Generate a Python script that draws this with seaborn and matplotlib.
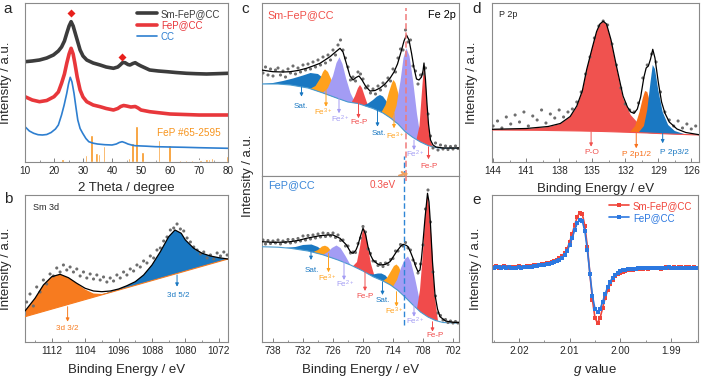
import numpy as np
import matplotlib
matplotlib.use('Agg')
import matplotlib.pyplot as plt
from matplotlib.ticker import MultipleLocator, FormatStrFormatter
import seaborn as sns

# ---------------- a: XRD ----------------
xrd_sm_x = [10, 12.5, 15, 17.5, 19.8, 21.5, 22.6, 23.6, 24.4, 25.2, 25.9, 26.6, 27.2, 28, 29, 30, 31.3, 33.5, 35.9, 38,
            40.5, 42, 42.8, 43.7, 44.5, 45.5, 46.2, 47.2, 48, 49, 50, 53, 56, 59, 62, 65.7, 69, 72.6, 76, 80]
xrd_sm_y = [100.3, 101, 102, 104, 107, 111, 115, 121, 128.7, 136, 140.3, 136, 130, 122, 112, 106, 102, 99, 97, 95,
            93.7, 95, 97, 99.5, 99.3, 97.5, 97, 98.5, 99.3, 97.5, 96, 92, 91, 90.3, 89.5, 88.7, 88.3, 88, 88.3, 88.7]
xrd_fep_x = [10, 12.5, 15, 17.5, 20, 21.5, 22.6, 23.6, 24.4, 25.2, 25.9, 26.6, 27.2, 28, 29, 30, 31.3, 33.5, 35.9, 38,
             40.5, 42, 43, 44, 45, 46.5, 48, 49, 50, 53, 56, 60, 65, 70, 75, 80]
xrd_fep_y = [65.3, 62, 60.3, 61.5, 65.3, 70, 78.7, 88, 98.7, 108, 113.7, 108, 98.7, 85, 72, 65, 60.3, 57, 55.3, 53.5,
             52, 53.5, 55.5, 56.5, 56, 55, 55.5, 54, 52, 50.3, 49.3, 48, 47.5, 47, 47, 47]
xrd_cc_x = [10, 11.5, 13, 14.5, 16, 17.5, 19, 20.5, 21.5, 22.6, 23.5, 24.4, 25, 25.6, 26.2, 26.9, 27.6, 28.2, 29, 29.9,
            31, 32, 33.5, 35, 37.5, 40, 41.5, 42.5, 43.5, 44.5, 45.5, 47, 48, 52, 55, 60, 65, 70, 75, 80]
xrd_cc_y = [35.3, 31, 28.7, 27.3, 27, 27.5, 29.5, 33, 37, 47, 57, 68.7, 78, 84.7, 80, 68.7, 54, 42, 33.5, 28.7,
            23.5, 20.3, 18.8, 18, 17.3, 17, 18, 19.5, 20.3, 19.3, 18, 16.8, 16.3, 15.8, 15.3, 15, 14.7, 14.3, 14, 13.7]
pdf_x = [23.0, 31.0, 33.0, 34.7, 35.5, 37.3, 46.0, 46.5, 47.0, 48.4, 50.5, 55.8, 56.2, 59.3, 59.8, 63.5, 65.5, 67.5,
         70.5, 72.6, 73.5, 74.5, 79.6]
pdf_h = [3, 7, 27, 9, 8, 16, 4, 20, 19, 36, 10, 6, 22, 2, 17, 2, 2, 2, 2, 3, 3, 4, 6]
diamond_x = [25.7, 43.6]
diamond_y = [148.7, 104.7]

# ---------------- b: Sm 3d ----------------
b_dot_y = [40, 48, 36, 55, 50, 62, 58, 68, 66, 74, 70, 77, 72, 75, 70, 73, 66, 70, 64, 68,
           63, 67, 62, 65, 60, 64, 61, 67, 64, 70, 67, 73, 71, 77, 75, 81, 79, 86, 84, 92,
           94, 101, 105, 112, 114, 118, 113, 111, 104, 100, 95, 92, 88, 90, 84, 87, 83, 89, 86, 90, 87]
b_bg_x = [1118.4, 1069.8]
b_bg_y = [25.3, 83]
b_33_x = [1118.4, 1116, 1114, 1112, 1110, 1108, 1106, 1104, 1102, 1100, 1097]
b_33_y = [31, 43.7, 57, 65.3, 67.7, 64.3, 58.5, 52.5, 48.5, 48, 50.7]
b_52_x = [1100, 1098, 1096, 1094, 1092, 1090, 1088, 1086, 1084, 1082.5, 1081, 1080, 1078, 1076, 1074, 1072, 1069.8]
b_52_y = [47.1, 50.5, 53, 56.3, 60.3, 67, 77, 90.3, 105.3, 112, 108.7, 102, 93.7, 88.7, 86, 84.3, 83]
b_fit_x = [1118.4, 1116, 1114, 1112, 1110, 1108, 1106, 1104, 1102, 1100, 1098, 1096, 1094, 1092, 1090, 1088, 1086,
           1084, 1082.5, 1081, 1080, 1078, 1076, 1074, 1072, 1069.8]
b_fit_y = [31, 43.7, 57, 65.3, 67.7, 64.3, 58.7, 53.7, 51, 50.3, 51, 53, 56.3, 60.3, 67, 77, 90.3,
           105.3, 112, 108.7, 102, 93.7, 88.7, 86, 84.3, 83]

# ---------------- c: Fe 2p, Sm-FeP@CC (top) ----------------
ct_dot_y = [103, 109, 101, 107, 100, 106, 108, 101, 105, 99, 107, 103, 110, 102, 108, 104, 111, 106, 112, 107,
            114, 109, 116, 111, 119, 113, 121, 116, 126, 121, 131, 136, 126, 118, 109, 96, 99, 95, 104, 102,
            97, 88, 90, 83, 87, 82, 90, 86, 93, 90, 98, 95, 107, 104, 118, 127, 126, 146, 134, 136,
            110, 105, 92, 101, 102, 108, 62, 40, 28, 33, 26, 31, 27, 30, 26.5, 29.5, 27, 30, 27.5]
ct_bg_x = [740.5, 737, 734.5, 731, 728, 725, 723, 721, 718, 716, 714.5, 713, 711.5, 710, 708.5, 707, 705.5, 704, 700.5]
ct_bg_y = [92, 92, 91, 88, 83, 77.5, 74, 72.5, 67.5, 63, 58, 52, 44, 38.5, 34, 30.5, 28.5, 27.7, 27.7]
ct_sat1_x = [740.5, 738, 736, 734, 732, 730.5, 729, 727.5, 726, 724.5, 723]
ct_sat1_y = [92, 93, 95, 97.5, 100.5, 103, 102, 96, 88, 80, 74]
ct_fe3a_x = [730.5, 729.5, 728.5, 728, 727.6, 727, 726.3, 725.5, 724.5]
ct_fe3a_y = [87.3, 90, 98, 104, 106.7, 104, 96, 86, 76.3]
ct_fe2a_x = [728, 727, 726, 725.3, 724.7, 724.1, 723.4, 722.5, 721.5]
ct_fe2a_y = [83.2, 88, 100, 113, 118.7, 112, 98, 83, 72.8]
ct_fepa_x = [722.3, 721.6, 721, 720.6, 720.2, 719.6, 718.9]
ct_fepa_y = [73.3, 80, 88, 91, 88, 79, 68.9]
ct_sat2_x = [720, 719, 718, 717.2, 716.6, 716, 715.2, 714.2, 713.3]
ct_sat2_y = [70.5, 72.5, 76, 79.5, 81, 79.5, 74, 64, 53.2]
ct_fe3b_x = [716.3, 715.5, 714.8, 714.2, 713.9, 713.5, 712.8, 712, 711]
ct_fe3b_y = [63.7, 71, 84, 93, 96, 93, 80, 62, 42]
ct_fe2b_x = [714.2, 713.3, 712.5, 711.9, 711.3, 710.7, 710, 709.2, 708.3]
ct_fe2b_y = [56.3, 70, 95, 118, 127.7, 120, 96, 62, 33.4]
ct_fepb_x = [709.3, 708.7, 708.2, 707.8, 707.4, 707, 706.5, 706]
ct_fepb_y = [36.4, 50, 85, 111, 90, 55, 35, 28.8]
ct_fit_x = [740.3, 739, 738, 736, 734.6, 733, 731.3, 730, 728.6, 727.6, 726.6, 725.5, 724.6, 724, 723.3, 722.6, 722,
            721.4, 720.8, 720.2, 719.5, 718.6, 717.6, 716.6, 715.6, 714.6, 713.8, 713.1, 712.4, 711.8, 711.3, 710.8,
            710.3, 709.8, 709.3, 708.8, 708.3, 708.0, 707.8, 707.5, 707.2, 706.9, 706.5, 706, 705.4, 704, 700.8]
ct_fit_y = [106, 105, 104.3, 104, 104.3, 105.5, 107.7, 110, 112.7, 116, 119.3, 124, 127.7, 124, 112, 100, 96,
            98.5, 100, 96, 90, 85, 85.5, 88, 92, 97.7, 104, 112, 124, 135, 141, 136,
            123, 108, 97, 96, 99, 105, 113, 96, 72, 52, 36, 31, 29, 28, 28]

# ---------------- c: Fe 2p, FeP@CC (bottom) ----------------
cb_dot_y = [102, 98, 101.5, 98.5, 101, 99, 102, 98, 101, 99.5, 102.5, 99, 102.5, 100, 103.5, 101, 106, 102, 106.5, 103,
            107, 104, 108, 105, 109, 105.5, 108.5, 106, 109, 104.5, 107, 101.5, 102, 96, 96, 89, 90, 89.5, 98.5, 104,
            115.5, 110, 93, 88.5, 81, 80.5, 76.5, 78.5, 75.5, 79, 77.5, 82.5, 83.5, 91, 91, 97.5, 96, 99.5, 94, 92,
            82, 78.5, 69, 78, 97, 133, 152, 120, 70, 46, 29, 26.5, 22, 22.5, 19.5, 21, 19, 20.5, 19]
cb_bg_x = [740.5, 737, 734.5, 731, 728, 725, 722.5, 720, 718, 716, 714.5, 713, 711.5, 710, 708.5, 707, 705.5, 704, 700.5]
cb_bg_y = [95.3, 94.8, 93.7, 91, 87.2, 82, 77, 71, 65.3, 61, 57, 51.5, 44.5, 37, 30, 25, 21.5, 19.5, 18.7]
cb_sat1_x = [735.5, 733.5, 732, 730.3, 729, 727.5, 726]
cb_sat1_y = [94.2, 95, 97, 97.5, 95, 89, 83.7]
cb_fe3a_x = [730, 729, 728.2, 727.6, 727, 726.2, 725.2]
cb_fe3a_y = [89.8, 92, 95.5, 96.3, 95, 90, 82.3]
cb_fe2a_x = [728, 727, 726.2, 725.3, 724.5, 723.5, 722.5]
cb_fe2a_y = [87.2, 90, 94, 96.5, 94, 86, 77]
cb_fepa_x = [722, 721.2, 720.6, 720.2, 719.8, 719.4, 719, 718.4, 717.6]
cb_fepa_y = [75.8, 80, 95, 108, 113.5, 108, 95, 78, 64.4]
cb_sat2_x = [719, 718, 717, 716.3, 715.5, 714.5, 713.5]
cb_sat2_y = [68.2, 67.5, 68.5, 68.5, 66.5, 60.5, 53.4]
cb_fe3b_x = [716, 715.2, 714.5, 713.8, 713.3, 712.8, 712.1, 711.3, 710.5]
cb_fe3b_y = [61, 64, 70, 76, 77.5, 75, 66, 53, 39.5]
cb_fe2b_x = [714, 713.2, 712.4, 711.6, 711, 710.4, 709.6, 708.8, 708]
cb_fe2b_y = [55.4, 62, 74, 83, 85.5, 80, 64, 45, 28.3]
cb_fepb_x = [709.2, 708.6, 708, 707.5, 707.1, 706.7, 706.2, 705.7, 705.0]
cb_fepb_y = [33, 52, 90, 132, 148.5, 132, 95, 48, 21]
cb_fit_x = [740.3, 738, 736, 734.6, 733, 731.3, 730, 728.6, 727, 726, 724.6, 723.3, 722.5, 722, 721.4, 721, 720.5,
            720, 719.5, 719, 718.5, 718, 717.2, 716.6, 715.6, 714.6, 713.3, 712.5, 712, 711.3, 711, 710.5, 710,
            709.5, 709, 708.6, 708.3, 708, 707.6, 707.1, 706.8, 706.5, 706.1, 705.6, 705.1, 704.6, 703.5, 702, 700.8]
cb_fit_y = [100.3, 99.7, 99.8, 100.3, 101.5, 103.7, 105, 106.3, 107, 107, 103.7, 97, 90, 88.7, 92, 97, 106,
            113.7, 108, 95.3, 87, 82, 78.5, 77, 77.5, 80.3, 90.3, 95.5, 97.7, 96.5, 95.3, 90, 83.7,
            76, 70.3, 72, 83.7, 100, 123.7, 148.7, 140, 117, 80, 47, 33, 25.3, 21, 19.7, 19.5]

# ---------------- d: P 2p ----------------
d_dot_y = [36, 41, 34, 45, 38, 47, 40, 50, 36, 46, 42, 52, 39, 48, 44, 52, 45, 50, 53, 60,
           70, 88, 105, 124, 136, 141, 137, 118, 97, 74, 58, 52, 50, 59, 84, 97, 108, 100, 70, 50,
           42, 36, 41, 34, 38, 33, 36]
d_bg_x = [144.1, 140, 136, 134, 132, 130, 128, 125.3]
d_bg_y = [32, 31.7, 31, 30.5, 29.8, 29, 28, 27]
d_po_x = [144.1, 141, 139, 137.9, 137, 136.4, 135.9, 135.5, 135, 134.6, 134.3, 134.0, 133.7, 133.3, 132.8, 132.2,
          131.5, 130.6, 129.5, 128, 125.3]
d_po_y = [32.5, 33, 35, 38, 45, 55, 70, 92, 114, 130, 137.5, 140.3, 137.5, 122, 95, 64, 47, 36, 31.5, 28.8, 27.2]
d_p12_x = [131.6, 131.1, 130.7, 130.4, 130.2, 130.0, 129.7, 129.3, 128.8]
d_p12_y = [29.6, 36, 50, 64, 71, 70, 58, 40, 28.4]
d_p32_x = [130.8, 130.3, 130.0, 129.7, 129.5, 129.3, 129.0, 128.6, 128.1, 127.5, 126.5]
d_p32_y = [29.3, 36, 52, 80, 97, 93, 72, 50, 37, 31, 27.4]
d_fit_x = [144.1, 141, 139, 137.9, 137, 136.4, 135.9, 135.5, 135, 134.6, 134.3, 134, 133.7, 133.3, 132.8, 132.2,
           131.8, 131.5, 131.2, 130.9, 130.6, 130.3, 130.1, 129.9, 129.7, 129.5, 129.3, 129.0, 128.7, 128.4,
           128.0, 127.3, 126.5, 125.3]
d_fit_y = [32.7, 33.5, 35.5, 38.5, 45.5, 56, 71, 92.5, 114, 130.5, 138, 140.8, 138, 122.5, 96, 66,
           55, 50, 48.7, 53, 65, 85, 94, 96, 103, 112.7, 104, 80, 60, 49, 40, 33, 29.5, 27.3]

# ---------------- e: EPR ----------------
epr_sm = [75.5, 76, 74.5, 75, 76, 75, 74.5, 75.5, 75, 75.5, 76, 75, 75.5, 76, 76.5, 76, 77, 77, 77.5, 78,
          78.5, 79, 79.5, 80, 81, 82.5, 84, 86, 89, 93, 100, 108, 117, 125, 129.5, 128, 116, 95, 68, 42,
          24, 19, 24, 34, 44, 52, 58, 62.5, 66, 68, 69.5, 70.5, 71.5, 72, 72.5, 72.5, 73, 73.5, 73, 73.5,
          74, 73.5, 74, 74.5, 74, 74.5, 73.5, 74, 75, 74.5, 74, 75, 74.5, 75, 75.5, 74.5, 75, 75.5, 74.5, 75, 74.5]
epr_fep = [74.5, 75, 75, 74, 75, 74.5, 75, 74.5, 74, 74.5, 75, 74.5, 75, 75, 75.5, 75.5, 76, 76.5, 77, 77,
           77.5, 78, 78.5, 79, 80, 81, 82.5, 84.5, 87, 91, 97, 104, 112, 119, 122, 121, 111, 92, 68, 46,
           33, 30, 33, 40, 48, 55, 60.5, 64.5, 67.5, 69.5, 71, 72, 72.5, 73, 73.5, 73.5, 73.5, 74, 74, 74,
           74.5, 74, 74.5, 74, 74.5, 74, 74.5, 74, 74.5, 75, 74.5, 74, 74.5, 74, 74.5, 74, 74.5, 74, 74.5, 74, 74.5]

b_dot_x = np.linspace(1118.0, 1070.0, len(b_dot_y))
c_dot_x = np.linspace(740.0, 701.0, len(ct_dot_y))
d_dot_x = np.linspace(144.0, 125.6, len(d_dot_y))
g_val = np.linspace(2.025, 1.985, len(epr_sm))

BLUE, ORANGE, LAV, RED = '#1a78c2', '#ffa11c', '#a39cf4', '#f14b4b'
DOT = '#6e6e6e'

sns.set_theme(style='ticks')
plt.rcParams.update({'font.family': ['Liberation Sans', 'DejaVu Sans'],
                     'mathtext.fontset': 'custom', 'mathtext.rm': 'Liberation Sans',
                     'mathtext.it': 'Liberation Sans:italic', 'mathtext.default': 'regular'})

fig = plt.figure(figsize=(7.02, 3.78), dpi=100)


def axes_px(l, t, r, b):
    return fig.add_axes([l / 702, 1 - b / 378, (r - l) / 702, (b - t) / 378])


def style(ax, xlim, ylim, major, minor, labels=True):
    ax.set_xlim(*xlim)
    ax.set_ylim(*ylim)
    ax.set_yticks([])
    ax.xaxis.set_major_locator(MultipleLocator(major))
    ax.xaxis.set_minor_locator(MultipleLocator(minor))
    ax.tick_params(axis='x', which='both', direction='in', top=False, color='#808080',
                   labelsize=7.2, pad=3, labelbottom=labels)
    ax.tick_params(axis='x', which='major', length=3, width=0.7)
    ax.tick_params(axis='x', which='minor', length=1.8, width=0.6)
    for s in ax.spines.values():
        s.set_color('#8a8a8a')
        s.set_linewidth(0.8)


def peak(ax, px, py, bx, by, color, z=2):
    px, py = np.asarray(px, float), np.asarray(py, float)
    bx, by = np.asarray(bx, float), np.asarray(by, float)
    m = (bx >= px.min()) & (bx <= px.max())
    o = np.argsort(bx[m])
    ax.fill(np.r_[px, bx[m][o]], np.r_[py, by[m][o]], color=color, lw=0, zorder=z)


def arrow(ax, x, y0, y1, color, text, tx, ty, fs=5.8):
    ax.annotate('', xy=(x, y1), xytext=(x, y0),
                arrowprops=dict(arrowstyle='-|>', color=color, lw=0.7, mutation_scale=5,
                                shrinkA=0, shrinkB=0), zorder=6)
    ax.text(tx, ty, text, color=color, ha='center', va='center', fontsize=fs, zorder=6)


def ylab(ax, xfrac):
    ax.set_ylabel('Intensity / a.u.', fontsize=9.5)
    ax.yaxis.set_label_coords(xfrac, 0.5)


def xlab(ax, text, yfrac):
    ax.set_xlabel(text, fontsize=9.5)
    ax.xaxis.set_label_coords(0.5, yfrac)


# ---- a ----
ax = axes_px(25, 3, 228, 162)
ax.bar(pdf_x, pdf_h, width=0.85, color='#f7941d', zorder=1)
sns.lineplot(x=xrd_sm_x, y=xrd_sm_y, ax=ax, color='#3c3c3c', lw=2.6, estimator=None, sort=False, label='Sm-FeP@CC')
sns.lineplot(x=xrd_fep_x, y=xrd_fep_y, ax=ax, color='#e8373b', lw=2.6, estimator=None, sort=False, label='FeP@CC')
sns.lineplot(x=xrd_cc_x, y=xrd_cc_y, ax=ax, color='#2e7fd0', lw=1.2, estimator=None, sort=False, label='CC')
ax.plot(diamond_x, diamond_y, 'D', color='#e8201c', ms=4, mec='none')
ax.text(55.4, 29, 'FeP #65-2595', color='#f7941d', fontsize=7.2, va='center')
ax.legend(loc='upper right', bbox_to_anchor=(0.99, 1.0), frameon=False, fontsize=7, labelcolor='linecolor',
          handlelength=2.0, handletextpad=0.4, labelspacing=0.15, borderaxespad=0.2)
style(ax, (10, 80), (0, 159), 10, 5)
ylab(ax, -0.064)
xlab(ax, '2 Theta / degree', -0.125)

# ---- b ----
ax = axes_px(25, 195, 228, 342)
peak(ax, b_33_x, b_33_y, b_bg_x, b_bg_y, '#f77b1f')
peak(ax, b_52_x, b_52_y, b_bg_x, b_bg_y, BLUE)
ax.plot(b_bg_x, b_bg_y, color='#f77b1f', lw=0.8, zorder=3)
sns.scatterplot(x=b_dot_x, y=b_dot_y, ax=ax, s=5, color=DOT, edgecolor='none', zorder=4)
sns.lineplot(x=b_fit_x, y=b_fit_y, ax=ax, color='black', lw=0.9, estimator=None, sort=False, zorder=5)
arrow(ax, 1108.2, 35.3, 20.3, '#f77b1f', '3d 3/2', 1108.4, 13)
arrow(ax, 1082.0, 67, 55.3, BLUE, '3d 5/2', 1081.8, 46.3)
ax.text(0.04, 0.9, 'Sm 3d', transform=ax.transAxes, fontsize=6.5)
style(ax, (1118.4, 1069.8), (0, 147), 8, 4)
ylab(ax, -0.064)
xlab(ax, 'Binding Energy / eV', -0.15)

# ---- c ----
comp_top = [(ct_sat1_x, ct_sat1_y, BLUE), (ct_fe3a_x, ct_fe3a_y, ORANGE), (ct_fe2a_x, ct_fe2a_y, LAV),
            (ct_fepa_x, ct_fepa_y, RED), (ct_sat2_x, ct_sat2_y, BLUE), (ct_fe3b_x, ct_fe3b_y, ORANGE),
            (ct_fe2b_x, ct_fe2b_y, LAV), (ct_fepb_x, ct_fepb_y, RED)]
comp_bot = [(cb_sat1_x, cb_sat1_y, BLUE), (cb_fe3a_x, cb_fe3a_y, ORANGE), (cb_fe2a_x, cb_fe2a_y, LAV),
            (cb_fepa_x, cb_fepa_y, RED), (cb_sat2_x, cb_sat2_y, BLUE), (cb_fe3b_x, cb_fe3b_y, ORANGE),
            (cb_fe2b_x, cb_fe2b_y, LAV), (cb_fepb_x, cb_fepb_y, RED)]
labels = ['Sat.', 'Fe$^{3+}$', 'Fe$^{2+}$', 'Fe-P'] * 2
colors = [BLUE, ORANGE, LAV, RED] * 2

axt = axes_px(262, 3, 459, 176)
for px, py, col in comp_top:
    peak(axt, px, py, ct_bg_x, ct_bg_y, col)
axt.plot(ct_bg_x, ct_bg_y, color='#4a9bd0', lw=0.8, zorder=3)
sns.scatterplot(x=c_dot_x, y=ct_dot_y, ax=axt, s=5, color=DOT, edgecolor='none', zorder=4)
sns.lineplot(x=ct_fit_x, y=ct_fit_y, ax=axt, color='black', lw=0.9, estimator=None, sort=False, zorder=5)
top_arrows = [(732.3, 89.3, 79.3, 732.5, 69.3), (727.4, 86.7, 69.3, 727.9, 63.3), (724.8, 77.7, 62.7, 724.6, 56.5),
              (720.9, 72.7, 57.7, 720.7, 53.7), (717.1, 69.3, 49.3, 716.9, 42.7), (713.8, 62.7, 47.7, 713.6, 40),
              (709.8, 36, 26, 709.6, 21.7), (706.9, 29.3, 16.7, 706.7, 9.3)]
for (x, y0, y1, tx, ty), lab, col in zip(top_arrows, labels, colors):
    arrow(axt, x, y0, y1, col, lab, tx, ty)
axt.axvline(711.4, ymin=0, ymax=0.97, color='#f07a7a', ls=(0, (4, 2)), lw=1.1, zorder=6)
axt.plot([711.7, 711.7], [0, 20], color='#2f86d6', ls=(0, (4, 2)), lw=1.0, zorder=6)
axt.annotate('', xy=(710.6, 6), xytext=(712.6, 6),
             arrowprops=dict(arrowstyle='->', connectionstyle='arc3,rad=0.7', color='#f0a060', lw=1.6), zorder=7)
axt.text(0.03, 0.93, 'Sm-FeP@CC', transform=axt.transAxes, color='#f0504a', fontsize=7.8, va='center')
axt.text(0.985, 0.93, 'Fe 2p', transform=axt.transAxes, color='black', fontsize=7.8, va='center', ha='right')
style(axt, (740.2, 700.8), (0, 173), 6, 3, labels=False)
axt.tick_params(axis='x', which='both', length=0)

axb = axes_px(262, 176, 459, 342)
for px, py, col in comp_bot:
    peak(axb, px, py, cb_bg_x, cb_bg_y, col)
axb.plot(cb_bg_x, cb_bg_y, color='#4a9bd0', lw=0.8, zorder=3)
sns.scatterplot(x=c_dot_x, y=cb_dot_y, ax=axb, s=5, color=DOT, edgecolor='none', zorder=4)
sns.lineplot(x=cb_fit_x, y=cb_fit_y, ax=axb, color='black', lw=0.9, estimator=None, sort=False, zorder=5)
bot_arrows = [(730.4, 92, 82, 730.3, 72), (726.9, 88.7, 69.7, 727.1, 63.7), (723.8, 80.3, 62, 723.6, 57.7),
              (719.6, 72, 51, 719.6, 45.3), (716.1, 60.3, 47, 716.1, 42), (713.3, 50.3, 35.3, 713.8, 31),
              (709.8, 37, 25.3, 709.6, 21), (706.1, 20.3, 10.3, 705.6, 6.3)]
for (x, y0, y1, tx, ty), lab, col in zip(bot_arrows, labels, colors):
    arrow(axb, x, y0, y1, col, lab, tx, ty)
axb.axvline(711.7, ymin=0.1, ymax=1, color='#2f86d6', ls=(0, (4, 2)), lw=1.0, zorder=6)
axb.axvline(711.4, ymin=0.97, ymax=1, color='#f07a7a', ls=(0, (4, 2)), lw=1.1, zorder=6)
axb.text(716.1, 157, '0.3eV', color='#f0504a', fontsize=7.2, ha='center', va='center')
axb.text(0.03, 0.946, 'FeP@CC', transform=axb.transAxes, color='#3a86d8', fontsize=7.8, va='center')
style(axb, (740.2, 700.8), (0, 166), 6, 3)
xlab(axb, 'Binding Energy / eV', -0.135)
fig.text(248 / 702, 1 - 176 / 378, 'Intensity / a.u.', rotation=90, va='center', ha='center', fontsize=9.5)

# ---- d ----
ax = axes_px(492, 3, 699, 162)
peak(ax, d_po_x, d_po_y, d_bg_x, d_bg_y, '#f0524f')
peak(ax, d_p12_x, d_p12_y, d_bg_x, d_bg_y, '#f8701a')
peak(ax, d_p32_x, d_p32_y, d_bg_x, d_bg_y, BLUE)
ax.plot(d_bg_x, d_bg_y, color='#f0524f', lw=0.8, zorder=3)
sns.scatterplot(x=d_dot_x, y=d_dot_y, ax=ax, s=5, color=DOT, edgecolor='none', zorder=4)
sns.lineplot(x=d_fit_x, y=d_fit_y, ax=ax, color='black', lw=0.9, estimator=None, sort=False, zorder=5)
arrow(ax, 135.1, 30.3, 15.3, '#f0524f', 'P-O', 135.0, 9.3, fs=6)
arrow(ax, 131.0, 28.7, 13.7, '#f8701a', 'P 2p1/2', 131.0, 8, fs=6)
arrow(ax, 128.6, 30.3, 18.7, BLUE, 'P 2p3/2', 127.5, 9.3, fs=6)
ax.text(0.035, 0.93, 'P 2p', transform=ax.transAxes, fontsize=6.5, va='center')
style(ax, (144.1, 125.3), (0, 159), 3, 1.5)
ylab(ax, -0.068)
xlab(ax, 'Binding Energy / eV', -0.13)

# ---- e ----
ax = axes_px(492, 195, 698, 342)
sns.lineplot(x=g_val, y=epr_sm, ax=ax, color='#f0443a', lw=1.2, marker='s', markersize=2.8, markeredgewidth=0,
             estimator=None, sort=False, label='Sm-FeP@CC')
sns.lineplot(x=g_val, y=epr_fep, ax=ax, color='#2c78e0', lw=1.2, marker='s', markersize=2.8, markeredgewidth=0,
             estimator=None, sort=False, label='FeP@CC')
ax.legend(loc='upper right', bbox_to_anchor=(1.0, 1.0), frameon=False, fontsize=7, labelcolor='linecolor',
          handlelength=2.0, handletextpad=0.4, labelspacing=0.2, borderaxespad=0.2)
style(ax, (2.0253, 1.9847), (0, 147), 0.01, 0.005)
ax.xaxis.set_major_formatter(FormatStrFormatter('%.2f'))
ylab(ax, -0.05)
xlab(ax, '$\\mathit{g}$ value', -0.135)

# panel letters
for lx, ly, lt in [(8, 9, 'a'), (8, 199, 'b'), (245, 9, 'c'), (477, 9, 'd'), (477, 200, 'e')]:
    fig.text(lx / 702, 1 - ly / 378, lt, fontsize=11, ha='center', va='center')

fig.savefig('out.png', dpi=100)
